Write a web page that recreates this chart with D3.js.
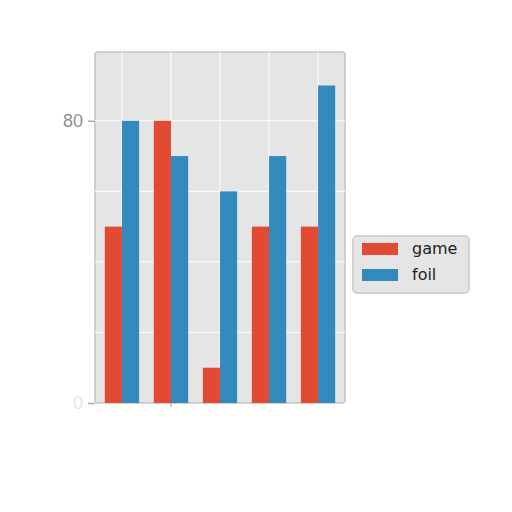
<!DOCTYPE html>
<html>
<head>
<meta charset="utf-8">
<script src="https://cdn.jsdelivr.net/npm/d3@7"></script>
<style>
  body { margin: 0; background: #fff; }
  svg { font-family: "DejaVu Sans", sans-serif; }
</style>
</head>
<body>
<div id="chart"></div>
<script>
// chart data
const categories = ["A", "B", "C", "D", "E"];
const seriesNames = ["game", "foil"];
const gameValues = [50, 80, 10, 50, 50];
const foilValues = [80, 70, 60, 70, 90];
const yTickValues = [0, 80];
const yGridValues = [20, 40, 60, 80];

const colors = {game: "#E24A33", foil: "#348ABD"};

let margin = {top: 52, left: 95};
let width = 250, height = 351;

let svg = d3.select("#chart").append("svg")
    .attr("width", 512)
    .attr("height", 512);

let g = svg.append("g")
    .attr("transform", "translate(" + margin.left + ", " + margin.top + ")");

// scales
let x = d3.scaleLinear()
    .domain([-0.55, categories.length - 0.45])
    .range([0, width]);

let y = d3.scaleLinear()
    .domain([0, 99.5])
    .range([height, 0]);

let barW = x(0.35) - x(0);

// background
g.append("rect")
    .attr("width", width)
    .attr("height", height)
    .attr("rx", 3)
    .attr("fill", "#e5e5e5")
    .attr("stroke", "#c4c4c4")
    .attr("stroke-width", 1.5);

// grid
g.selectAll(".hgrid")
    .data(yGridValues)
    .enter().append("line")
    .attr("x1", 0).attr("x2", width)
    .attr("y1", d => y(d)).attr("y2", d => y(d))
    .attr("stroke", "#fff").attr("stroke-width", 1);

g.selectAll(".vgrid")
    .data(categories)
    .enter().append("line")
    .attr("x1", (d, i) => x(i)).attr("x2", (d, i) => x(i))
    .attr("y1", 0).attr("y2", height)
    .attr("stroke", "#fff").attr("stroke-width", 1);

// bars
let series = [
    {name: "game", values: gameValues, offset: -barW},
    {name: "foil", values: foilValues, offset: 0}
];

series.forEach(s => {
    g.selectAll(".bar-" + s.name)
        .data(s.values)
        .enter().append("rect")
        .attr("x", (d, i) => x(i) + s.offset)
        .attr("y", d => y(d))
        .attr("width", barW)
        .attr("height", d => height - y(d))
        .attr("fill", colors[s.name]);
});

// y axis
let yAxis = d3.axisLeft(y)
    .tickValues(yTickValues)
    .tickSize(7)
    .tickPadding(5);

let ya = g.append("g").call(yAxis);
ya.select(".domain").remove();
ya.selectAll("line").attr("stroke", "#aaa").attr("stroke-width", 1.5);
ya.selectAll("text")
    .attr("fill", d => d === 0 ? "#e4e4e4" : "#8f8f8f")
    .style("font-size", "18px");

// small category tick
g.append("line")
    .attr("x1", x(1)).attr("x2", x(1))
    .attr("y1", height).attr("y2", height + 4)
    .attr("stroke", "#999");

// legend
let legend = svg.append("g")
    .attr("transform", "translate(353, 236)");

legend.append("rect")
    .attr("width", 116)
    .attr("height", 57)
    .attr("rx", 4)
    .attr("fill", "#e5e5e5")
    .attr("stroke", "#c8c8c8")
    .attr("stroke-width", 1.5);

seriesNames.forEach((name, i) => {
    legend.append("rect")
        .attr("x", 9)
        .attr("y", 7 + i * 26)
        .attr("width", 36)
        .attr("height", 12)
        .attr("fill", colors[name]);
    legend.append("text")
        .attr("x", 59)
        .attr("y", 18 + i * 26)
        .attr("fill", "#222")
        .style("font-size", "16px")
        .text(name);
});
</script>
</body>
</html>
